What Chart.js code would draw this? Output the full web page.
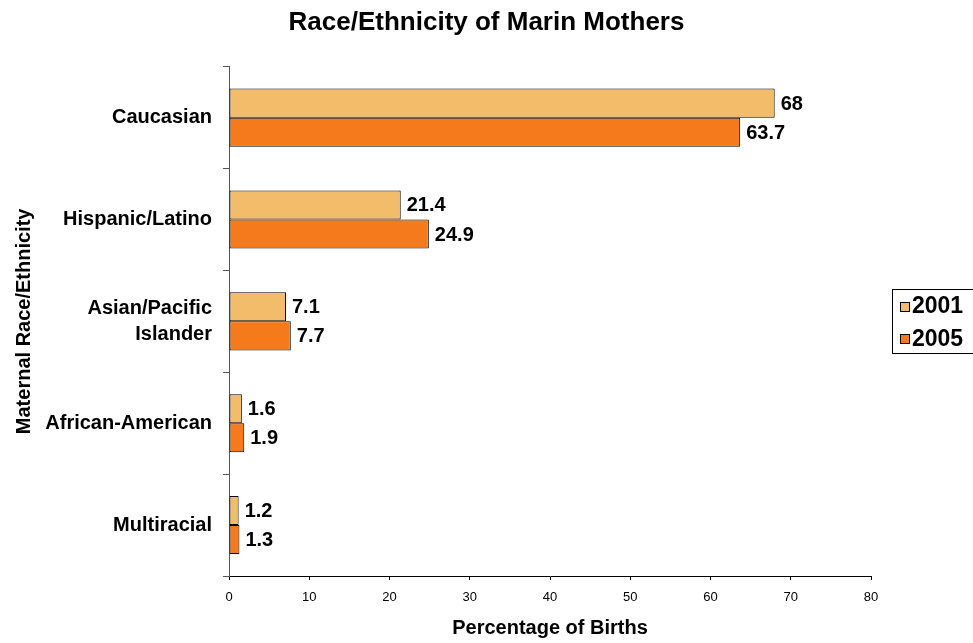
<!DOCTYPE html>
<html><head><meta charset="utf-8">
<script src="https://cdn.jsdelivr.net/npm/chart.js@4"></script>
<style>html,body{margin:0;padding:0;background:#fff;overflow:hidden}canvas{display:block}</style>
</head><body>
<canvas id="c" width="973" height="643"></canvas>
<script>
const categories = ['Caucasian', 'Hispanic/Latino', ['Asian/Pacific', 'Islander'], 'African-American', 'Multiracial'];
const seriesNames = ['2001', '2005'];
const values2001 = [68, 21.4, 7.1, 1.6, 1.2];
const values2005 = [63.7, 24.9, 7.7, 1.9, 1.3];
const xMin = 0, xMax = 80, xStep = 10;
const chartTitle = 'Race/Ethnicity of Marin Mothers';
const xTitle = 'Percentage of Births';
const yTitle = 'Maternal Race/Ethnicity';
const colors = ['#F3BC6B', '#F47A1B'];

const FONT = "'Liberation Sans', Arial, Helvetica, sans-serif";

const dataLabels = {
  id: 'dataLabels',
  afterDatasetsDraw(chart) {
    const ctx = chart.ctx;
    ctx.save();
    ctx.font = 'bold 20px ' + FONT;
    ctx.fillStyle = '#000';
    ctx.textAlign = 'left';
    ctx.textBaseline = 'middle';
    chart.data.datasets.forEach((ds, i) => {
      chart.getDatasetMeta(i).data.forEach((bar, j) => {
        ctx.fillText(String(ds.data[j]), bar.x + 6, bar.y + 1);
      });
    });
    ctx.restore();
  }
};

const boxedLegend = {
  id: 'boxedLegend',
  afterDraw(chart) {
    const ctx = chart.ctx;
    ctx.save();
    ctx.strokeStyle = '#000';
    ctx.lineWidth = 1;
    ctx.strokeRect(892.5, 289.5, 100, 64);
    ctx.font = 'bold 23px ' + FONT;
    ctx.textAlign = 'left';
    ctx.textBaseline = 'middle';
    const ys = [306, 338.5];
    chart.data.datasets.forEach((ds, i) => {
      const y = ys[i];
      ctx.fillStyle = ds.backgroundColor;
      ctx.fillRect(900.5, Math.round(y - 4.5) + 0.5, 9, 9);
      ctx.strokeStyle = '#000';
      ctx.strokeRect(900.5, Math.round(y - 4.5) + 0.5, 9, 9);
      ctx.fillStyle = '#000';
      ctx.fillText(ds.label, 912, y + 1);
    });
    ctx.restore();
  }
};

new Chart(document.getElementById('c'), {
  type: 'bar',
  data: {
    labels: categories,
    datasets: [
      { label: seriesNames[0], data: values2001, backgroundColor: colors[0], borderColor: '#000', borderWidth: 1, borderSkipped: false, categoryPercentage: 0.57, barPercentage: 1.0 },
      { label: seriesNames[1], data: values2005, backgroundColor: colors[1], borderColor: '#000', borderWidth: 1, borderSkipped: false, categoryPercentage: 0.57, barPercentage: 1.0 }
    ]
  },
  options: {
    indexAxis: 'y',
    responsive: false,
    animation: false,
    devicePixelRatio: 1,
    layout: { padding: { left: 0, right: 0, top: 0, bottom: 0 } },
    plugins: {
      legend: { display: false },
      tooltip: { enabled: false },
      title: {
        display: true,
        text: chartTitle,
        color: '#000',
        font: { family: FONT, size: 26, weight: 'bold', lineHeight: 1.2 },
        padding: { top: 7.5, bottom: 28 }
      }
    },
    scales: {
      x: {
        type: 'linear',
        min: xMin, max: xMax,
        ticks: { stepSize: xStep, color: '#000', font: { family: FONT, size: 13 }, padding: 10 },
        grid: { display: true, drawOnChartArea: false, drawTicks: true, tickLength: 4, color: '#000' },
        border: { display: true, color: '#000', width: 1 },
        title: { display: true, text: xTitle, color: '#000', font: { family: FONT, size: 20, weight: 'bold', lineHeight: 1.2 }, padding: { top: 4, bottom: 3 } },
        afterFit(s) { s.height = 67; }
      },
      y: {
        type: 'category',
        offset: true,
        ticks: { color: '#000', font: { family: FONT, size: 20, weight: 'bold', lineHeight: 1.3 }, padding: 11 },
        grid: { display: true, offset: true, drawOnChartArea: false, drawTicks: true, tickLength: 6, color: '#555' },
        border: { display: true, color: '#555', width: 1 },
        title: { display: true, text: yTitle, color: '#000', font: { family: FONT, size: 20, weight: 'bold', lineHeight: 1.2 }, padding: { top: 12, bottom: 0 } },
        afterFit(s) { s.width = 229; }
      },
      yRight: {
        type: 'category',
        position: 'right',
        display: true,
        grid: { display: false },
        border: { display: false },
        ticks: { display: false },
        afterFit(s) { s.width = 102; }
      }
    }
  },
  plugins: [dataLabels, boxedLegend]
});
</script>
</body></html>
